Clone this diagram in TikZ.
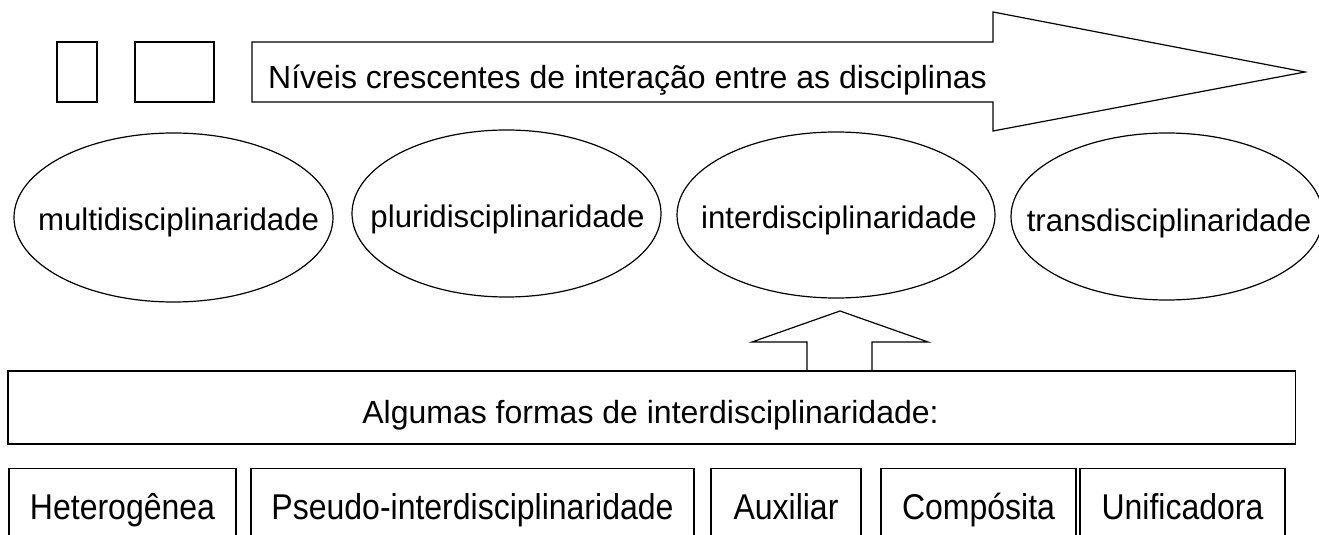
\documentclass[tikz,border=0pt]{standalone}
\usepackage{fontspec}
\setmainfont{Liberation Sans}
\usetikzlibrary{shapes.geometric}
\tikzset{
  outl/.style={draw=black, line width=1.2bp},
  elli/.style={outl, ellipse, inner sep=0pt},
  boxr/.style={outl, rectangle, inner sep=0pt},
  lbl/.style={anchor=base, inner sep=0pt, font=\fontsize{32bp}{38bp}\selectfont},
  elbl/.style={anchor=base, inner sep=0pt, font=\fontsize{31.2bp}{38bp}\selectfont},
  tall/.style={anchor=base, inner sep=0pt, font=\fontsize{32bp}{38bp}\selectfont},
}
\begin{document}
\begin{tikzpicture}[x=1bp,y=-1bp]
\useasboundingbox (0,0) rectangle (1319,535);
\clip (0,0) rectangle (1319,535);
\fill[white] (0,0) rectangle (1319,535);
% top-left small boxes
\node[boxr, minimum width=40bp, minimum height=60bp] (r1) at (77,72) {};
\node[boxr, minimum width=79bp, minimum height=60bp] (r2) at (174.5,72) {};
% big arrow
\draw[outl, line join=miter] (252,42) coordinate (a0) -- (993,42) -- (993,12) -- (1305,72) coordinate (atip) -- (993,131) -- (993,102) -- (252,102) -- cycle;
\node[lbl, anchor=base west] (arrtext) at (268,89) {Níveis crescentes de interação entre as disciplinas};
% ellipses
\node[elli, minimum width=319bp, minimum height=169bp] (e1) at (173.5,217.5) {};
\node[elli, minimum width=309bp, minimum height=167bp] (e2) at (506.5,213.5) {};
\node[elli, minimum width=318bp, minimum height=166bp] (e3) at (836,215) {};
\node[elli, minimum width=312bp, minimum height=167bp] (e4) at (1167,216.5) {};
\node[elbl] (t1) at (178.5,231) {multidisciplinaridade};
\node[elbl] (t2) at (507.5,228) {pluridisciplinaridade};
\node[elbl] (t3) at (839,229) {interdisciplinaridade};
\node[elbl] (t4) at (1169,232) {transdisciplinaridade};
% forms box
\node[boxr, minimum width=1287.5bp, minimum height=73bp] (forms) at (651.75,407.5) {};
\node[lbl] (formstext) at (650.5,423) {Algumas formas de interdisciplinaridade:};
% up arrow
\draw[outl, line join=miter] (807,371) -- (807,342) -- (752,342) -- (840,311) -- (928,342) -- (872,342) -- (872,371);
\draw[outl] (690,371) -- (990,371);
% bottom boxes
\node[boxr, minimum width=227bp, minimum height=100bp, anchor=north] (b1) at (122.5,468) {};
\node[boxr, minimum width=443bp, minimum height=100bp, anchor=north] (b2) at (472.5,468) {};
\node[boxr, minimum width=150bp, minimum height=100bp, anchor=north] (b3) at (786,468) {};
\node[boxr, minimum width=195bp, minimum height=100bp, anchor=north] (b4) at (978.5,468) {};
\node[boxr, minimum width=205bp, minimum height=100bp, anchor=north] (b5) at (1182.5,468) {};
\node[tall] (bt1) at (122.5,519) {\scalebox{1}[1.12]{Heterogênea}};
\node[tall] (bt2) at (472.5,519) {\scalebox{1}[1.12]{Pseudo-interdisciplinaridade}};
\node[tall] (bt3) at (786,519) {\scalebox{1}[1.12]{Auxiliar}};
\node[tall] (bt4) at (978.5,519) {\scalebox{1}[1.12]{Compósita}};
\node[tall] (bt5) at (1182.5,519) {\scalebox{1}[1.12]{Unificadora}};
\end{tikzpicture}
\end{document}
